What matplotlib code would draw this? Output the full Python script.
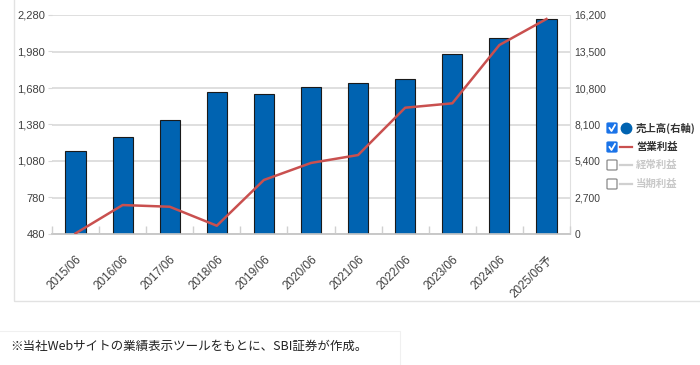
import numpy as np
import matplotlib
matplotlib.use("Agg")
import matplotlib.pyplot as plt
from matplotlib.patches import Rectangle, FancyBboxPatch
from matplotlib.lines import Line2D

plt.rcParams['font.family'] = ['Liberation Sans', 'Noto Sans CJK JP', 'DejaVu Sans']

# data
periods = ['2015/06', '2016/06', '2017/06', '2018/06', '2019/06', '2020/06',
           '2021/06', '2022/06', '2023/06', '2024/06', '2025/06予']
sales = [6160, 7200, 8430, 10500, 10360, 10900, 11150, 11440, 13320, 14500, 15900]
op_profit = [485, 718, 704, 548, 924, 1064, 1129, 1518, 1554, 2033, 2247]
left_ticks = [480, 780, 1080, 1380, 1680, 1980, 2280]
right_ticks = [0, 2700, 5400, 8100, 10800, 13500, 16200]
legend_items = ['売上高(右軸)', '営業利益', '経常利益', '当期利益']
note = '※当社Webサイトの業績表示ツールをもとに、SBI証券が作成。'

W, H = 700, 365
fig = plt.figure(figsize=(7, 3.65), dpi=100)
fig.patch.set_facecolor('white')

def fx(px):
    return px / W

def fy(py):
    return 1 - py / H

# outer frame and footnote box
fig.add_artist(Rectangle((fx(14), fy(301)), fx(700) - fx(14) + 0.01, fy(0) - fy(301) + 0.01,
                         transform=fig.transFigure, fill=False, ec='#e2e2e2', lw=1))
fig.add_artist(Rectangle((fx(-2), fy(366)), fx(402), fy(331) - fy(366),
                         transform=fig.transFigure, fill=False, ec='#f0f0f0', lw=0.8))

ax = fig.add_axes([fx(52), fy(234), fx(518), fy(15) - fy(234)])
ax2 = ax.twinx()

grid_c = '#d9d9d9'
x = np.arange(len(periods))

# bars on right axis (drawn underneath)
ax2.bar(x, sales, width=0.43, color='#0063b1', edgecolor='#1a1a1a', linewidth=0.8, zorder=3)
ax2.set_ylim(0, 16200)
ax2.set_yticks(right_ticks)
ax2.set_yticklabels([f'{v:,}' for v in right_ticks])
ax2.yaxis.grid(True, color=grid_c, lw=1.2)
ax2.set_axisbelow(True)

# line on left axis
ax.plot(x, op_profit, color='#c9504f', lw=1.8, zorder=5)
ax.set_ylim(480, 2280)
ax.set_yticks(left_ticks)
ax.set_yticklabels([f'{v:,}' for v in left_ticks])
ax.set_xlim(-0.5, len(periods) - 0.5)

ax.set_zorder(2)
ax2.set_zorder(1)
ax.patch.set_visible(False)
ax2.patch.set_visible(True)
ax2.patch.set_facecolor('white')

for a in (ax, ax2):
    for s in ('top', 'left', 'right'):
        a.spines[s].set_visible(False)
    a.spines['bottom'].set_color('#c8c8c8')
    a.spines['bottom'].set_linewidth(1.2)
ax2.spines['right'].set_visible(True)
ax2.spines['right'].set_color('#e0e0e0')

ax.tick_params(axis='y', length=3, color=grid_c, labelsize=8, labelcolor='#404040', pad=2)
ax2.tick_params(axis='y', length=0, labelsize=7.5, labelcolor='#404040', pad=3)

ax.set_xticks(x)
ax.set_xticklabels(periods, rotation=45, ha='right', va='top', rotation_mode='anchor',
                   fontsize=8.5, color='#404040')
ax.tick_params(axis='x', which='major', length=0, pad=14)
ax.set_xticks(np.arange(-0.5, len(periods)), minor=True)
ax.tick_params(axis='x', which='minor', direction='in', length=6, color='#d0d0d0', width=1)
ax2.tick_params(axis='x', which='both', length=0)

# legend with check boxes
rows = [128, 147, 165, 184]
for i, (label, yy) in enumerate(zip(legend_items, rows)):
    active = i < 2
    box = FancyBboxPatch((fx(607), fy(yy + 5)), fx(10), fy(yy - 5) - fy(yy + 5),
                         boxstyle='round,pad=0,rounding_size=0.002',
                         transform=fig.transFigure,
                         fc='#1a73e8' if active else 'white',
                         ec='#1a73e8' if active else '#8a8a8a', lw=0.9)
    fig.add_artist(box)
    if active:
        fig.add_artist(Line2D([fx(609.5), fx(611.5), fx(615)], [fy(yy), fy(yy + 3), fy(yy - 3)],
                              transform=fig.transFigure, color='white', lw=1.3))
    if i == 0:
        fig.add_artist(Line2D([fx(626)], [fy(yy)], transform=fig.transFigure, marker='o',
                              ms=7.5, color='#0063b1', ls='none'))
    else:
        c = '#c9504f' if active else '#d0d0d0'
        fig.add_artist(Line2D([fx(620), fx(632)], [fy(yy), fy(yy)],
                              transform=fig.transFigure, color=c, lw=1.6))
    fig.text(fx(636), fy(yy), label, fontsize=7.5, fontweight='bold',
             family=['Noto Sans CJK JP', 'DejaVu Sans'],
             color='#333333' if active else '#c8c8c8', va='center', ha='left')

fig.text(fx(10), fy(346), note, fontsize=9, family=['Noto Sans CJK JP', 'DejaVu Sans'],
         color='#222222', va='center', ha='left')

fig.savefig('out.png', dpi=100, facecolor='white')
